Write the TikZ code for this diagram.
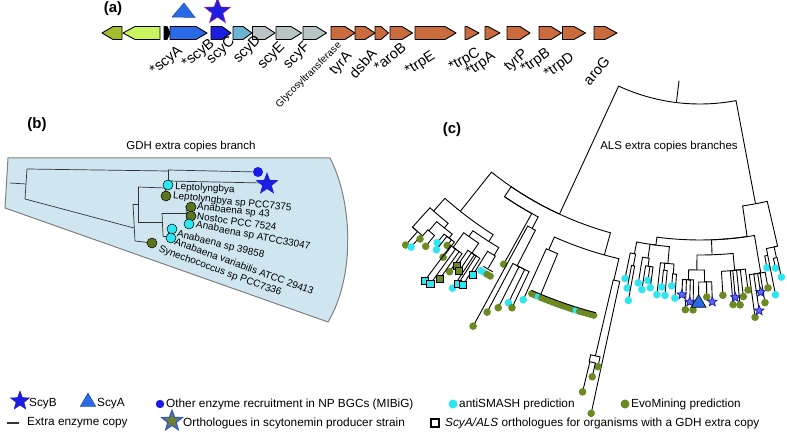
\documentclass[tikz,border=0pt]{standalone}
\usepackage{fontspec}
\setmainfont{Liberation Sans}
\usetikzlibrary{shapes.geometric}
\definecolor{evo}{HTML}{6B8A23}
\definecolor{anti}{HTML}{2EE6F0}
\definecolor{mib}{HTML}{1A1AE6}
\definecolor{scyb}{HTML}{1E1EE0}
\definecolor{scya}{HTML}{2B6AE6}
\definecolor{gA}{HTML}{A2BE2E}
\definecolor{gB}{HTML}{C9F55E}
\definecolor{gC}{HTML}{6CB2D2}
\definecolor{gG}{HTML}{B9C4C7}
\definecolor{gR}{HTML}{C96B3C}
\definecolor{panelb}{HTML}{CFE6F0}
\definecolor{ostar}{HTML}{6E7F2E}
\definecolor{ostaredge}{HTML}{2E58E0}
\definecolor{smfill}{HTML}{5A6CF0}
\definecolor{smedge}{HTML}{1818B0}
\tikzset{
  genebox/.style={draw=black, line width=0.9pt, line join=round},
  glabel/.style={font=\fontsize{14.5}{14.5}\selectfont, anchor=east, inner sep=0pt},
  plabel/.style={font=\bfseries\fontsize{15}{15}\selectfont, inner sep=0pt},
  tl/.style={line width=0.9pt, black},
  btl/.style={line width=0.7pt, black!80},
  bdot/.style={draw=black, line width=0.5pt},
  blabel/.style={font=\fontsize{10}{10}\selectfont, anchor=west, inner sep=0pt},
  leg/.style={font=\fontsize{11.8}{12}\selectfont, anchor=west, inner sep=0pt},
  smstar/.style={star, star points=5, star point ratio=2.3, minimum size=10pt, draw=smedge, fill=smfill, line width=0.7pt, inner sep=0pt},
  bigstar/.style={star, star points=5, star point ratio=2.4, inner sep=0pt},
  tri/.style={regular polygon, regular polygon sides=3, inner sep=0pt}
}
\newcommand\gene[4]{\draw[genebox,fill=#4] (#1,26.5) -- (#2,26.5) -- (#3,33) -- (#2,39.5) -- (#1,39.5) -- cycle;}
\newcommand\tE[4]{\draw[tl] (#1:#2) arc[start angle=#1,end angle=#3,radius=#2] -- (#3:#4);}
\newcommand\tD[5]{\tE{#1}{#2}{#3}{#4}\fill[#5] (#3:#4) circle[radius=3.8];}
\newcommand\tS[5]{\tE{#1}{#2}{#3}{#4}\draw[line width=0.8pt,fill=#5] (#3:#4) +(-3.6,-3.6) rectangle +(3.6,3.6);}
\newcommand\tStar[5]{\tE{#1}{#2}{#3}{#4}\node[smstar] (#5) at (#3:#4) {};}
\begin{document}
\begin{tikzpicture}[x=1pt,y=-1pt]
\useasboundingbox (0,0) rectangle (787,435);

% ---------- panel labels
\node[plabel] (la) at (113,9) {(a)};
\node[plabel] (lb) at (37,125) {(b)};
\node[plabel] (lc) at (452,130) {(c)};

% ---------- panel (a): gene cluster
\gene{122}{113}{102}{gA}
\gene{160}{135}{123}{gB}
\gene{164}{167}{170}{black}
\gene{170}{196}{207}{scya}
\gene{211}{222}{231}{scyb}
\gene{233}{243}{252}{gC}
\gene{252.5}{265}{275}{gG}
\gene{276}{291}{301.5}{gG}
\gene{303}{316}{326.5}{gG}
\gene{331}{345}{355}{gR}
\gene{355}{365}{375}{gR}
\gene{375}{381}{388.5}{gR}
\gene{390}{402}{412.5}{gR}
\gene{415}{445}{456}{gR}
\gene{465}{467}{479}{gR}
\gene{485}{488}{500}{gR}
\gene{507}{520}{530}{gR}
\gene{539}{551}{561.5}{gR}
\gene{562.5}{574}{585.5}{gR}
\gene{594}{605}{617}{gR}
\draw[fill=scya, draw=scya!70!black, line width=0.5pt] (184,3) -- (195,17.5) -- (172,17) -- cycle;
\node[bigstar, minimum size=27pt, fill=scyb, draw=magenta!60!blue, line width=0.5pt] (topstar) at (217.5,11.5) {};

\node[glabel, rotate=40] (n1) at (181,49) {*scyA};
\node[glabel, rotate=40] (n2) at (213,42) {*scyB};
\node[glabel, rotate=43] (n3) at (233,40) {scyC};
\node[glabel, rotate=45] (n4) at (259,38) {scyD};
\node[glabel, rotate=45] (n5) at (283,45) {scyE};
\node[glabel, rotate=45] (n6) at (308,45) {scyF};
\node[glabel, rotate=45, font=\fontsize{10}{10}\selectfont] (n7) at (340,44) {Glycosyltransferase};
\node[glabel, rotate=48] (n8) at (350,54) {tyrA};
\node[glabel, rotate=48] (n9) at (374,51) {dsbA};
\node[glabel, rotate=40] (n10) at (404,45) {*aroB};
\node[glabel, rotate=33] (n11) at (434,55) {*trpE};
\node[glabel, rotate=30] (n12) at (479,52) {*trpC};
\node[glabel, rotate=36] (n13) at (494,55) {*trpA};
\node[glabel, rotate=42] (n14) at (526,52) {tyrP};
\node[glabel, rotate=36] (n15) at (549,52) {*trpB};
\node[glabel, rotate=36] (n16) at (573,56) {*trpD};
\node[glabel, rotate=50] (n17) at (607,58) {aroG};

% ---------- panel (b)
\draw[draw=black!50, line width=1pt, fill=panelb] (8,158) -- (330,158) .. controls (352,200) and (356,275) .. (328,322) -- (5,208) -- cycle;
\node[font=\fontsize{11.5}{12}\selectfont, inner sep=0pt] (btitle) at (191,147) {GDH extra copies branch};
\draw[btl] (10,183) -- (26,184);
\draw[btl] (27,169) -- (25,199);
\draw[btl] (27,169) -- (168,171);
\draw[btl] (168,170) -- (168,181);
\draw[btl] (168,170) -- (258,172);
\draw[btl] (168,181) -- (263,183);
\draw[btl] (25,199) -- (134,228);
\draw[btl] (133,204) -- (135,241);
\draw[btl] (133,204) -- (138,204);
\draw[btl] (138,187) -- (138,222);
\draw[btl] (138,187) -- (165,188);
\draw[btl] (165,185) -- (165,196);
\draw[btl] (165,185) -- (168,185);
\draw[btl] (138,222) -- (162,222);
\draw[btl] (162,213) -- (163,236);
\draw[btl] (162,213) -- (186,213);
\draw[btl] (186,206) -- (187,224);
\draw[btl] (186,207) -- (191,207);
\draw[btl] (186,216) -- (191,216);
\draw[btl] (187,224) -- (189,224);
\draw[btl] (163,236) -- (168,236);
\draw[btl] (168,229) -- (169,238);
\draw[btl] (168,229) -- (172,229);
\draw[btl] (169,238) -- (171,238);
\draw[btl] (135,241) -- (152,243);
\fill[mib] (258,172) circle[radius=5];
\node[bigstar, minimum size=24pt, fill=scyb] (bstar) at (267,184) {};
\filldraw[bdot, fill=anti] (168,185) circle[radius=5];
\filldraw[bdot, fill=evo!85!black] (166,196) circle[radius=5];
\filldraw[bdot, fill=evo!85!black] (191,207) circle[radius=5];
\filldraw[bdot, fill=evo!85!black] (191,216) circle[radius=5];
\filldraw[bdot, fill=anti] (189,224) circle[radius=5];
\filldraw[bdot, fill=anti] (172,229) circle[radius=5];
\filldraw[bdot, fill=anti] (171,238) circle[radius=5];
\filldraw[bdot, fill=evo!85!black] (152,243) circle[radius=5];
\node[blabel, rotate=-3] (b1) at (175,187) {Leptolyngbya};
\node[blabel, rotate=-6] (b2) at (173,196) {Leptolyngbya sp PCC7375};
\node[blabel, rotate=-6] (b3) at (197,207) {Anabaena sp 43};
\node[blabel, rotate=-8] (b4) at (197,216) {Nostoc PCC 7524};
\node[blabel, rotate=-11] (b5) at (196,225) {Anabaena sp ATCC33047};
\node[blabel, rotate=-14] (b6) at (177,234) {Anabaena sp 39858};
\node[blabel, rotate=-20] (b7) at (175,241) {Anabaena variabilis ATCC 29413};
\node[blabel, rotate=-20] (b8) at (159,249) {Synechococcus sp PCC7336};

% ---------- panel (c): radial tree
\node[font=\fontsize{11.5}{12}\selectfont, inner sep=0pt] (ctitle) at (669,147) {ALS extra copies branches};
\begin{scope}[shift={(700,-90)}]
\draw[tl] (97:172) -- (97:194);
\tE{97}{194}{114.8}{335}
\tE{97}{194}{79.3}{299}
% left clade
\tE{114.8}{335}{128.5}{385}
\tE{114.8}{335}{124.3}{347}
\tE{114.8}{335}{105.5}{358}
\tE{128.5}{385}{131.5}{402}
\tE{128.5}{385}{122.5}{393}
\tE{131.5}{402}{132.2}{428}
\tD{132.2}{428}{131.3}{446}{evo}
\tD{132.2}{428}{130.6}{444}{anti}
\tE{131.5}{402}{128.8}{408}
\tE{128.8}{408}{130.2}{420}
\tD{130.2}{420}{130.4}{432}{evo}
\tD{130.2}{420}{129.2}{434}{evo}
\tE{128.8}{408}{127.4}{413}
\tD{127.4}{413}{128.3}{424}{anti}
\tD{127.4}{413}{127.8}{430}{anti}
\tD{127.4}{413}{127.0}{420}{evo}
\tD{127.4}{413}{126.5}{432}{evo}
\tE{122.5}{393}{125.3}{400}
\tE{125.3}{400}{126.2}{418}
\tD{126.2}{418}{124.7}{440}{evo}
\tS{126.2}{418}{126.6}{462}{anti}
\tS{126.2}{418}{125.8}{461}{anti}
\tS{126.2}{418}{125.2}{451}{evo}
\tE{125.3}{400}{123.6}{412}
\tS{123.6}{412}{124.3}{431}{evo}
\tS{123.6}{412}{123.7}{434}{evo}
\tD{123.6}{412}{123.2}{452}{anti}
\tS{123.6}{412}{122.9}{445}{anti}
\tS{123.6}{412}{122.3}{444}{anti}
\tE{122.5}{393}{120.8}{402}
\tS{120.8}{402}{121.9}{430}{anti}
\tE{120.8}{402}{120.6}{416}
\foreach \ang/\col in {121.3/anti,120.8/anti,120.3/evo,119.8/evo}{\fill[\col] (\ang:422) circle[radius=3.6];}
\draw[tl] (121.3:417) arc[start angle=121.3,end angle=119.8,radius=417];
\tD{124.3}{347}{119.0}{405}{evo}
\tE{124.3}{347}{117.8}{360}
\tD{117.8}{360}{118.6}{474}{evo}
\tE{117.8}{360}{117.2}{400}
\tD{117.2}{400}{117.9}{455}{evo}
\tD{117.2}{400}{116.9}{446}{evo}
\tD{117.2}{400}{116.0}{437}{anti}
\tD{117.2}{400}{115.3}{440}{evo}
% middle clade
\tE{105.5}{358}{114.0}{372}
\tD{114.0}{372}{114.4}{428}{anti}
\tE{114.0}{372}{112.5}{416}
\foreach \ang/\col in {113.7/evo,113.2/evo,112.7/anti,112.2/evo,111.7/evo,111.2/evo,110.7/evo,110.2/evo,109.7/evo,109.2/evo,108.7/evo,108.2/evo,107.7/evo,107.2/anti,106.7/evo,106.2/evo,105.7/evo,105.2/evo,104.7/evo}{\fill[\col] (\ang:419) circle[radius=3.6];}
\draw[tl] (113.9:416) arc[start angle=113.9,end angle=104.5,radius=416];
\tE{105.5}{358}{103.1}{380}
\tE{103.1}{380}{103.2}{458}
\tD{103.1}{380}{102.2}{515}{evo}
\tD{103.2}{458}{102.6}{468}{evo}
\tE{103.2}{458}{103.8}{465}
\tD{103.8}{465}{103.0}{479}{evo}
\tD{103.8}{465}{103.7}{496}{evo}
% right clade
\tE{79.3}{299}{77.0}{345}
\tE{79.3}{299}{81.8}{330}
\tE{77.0}{345}{78.9}{352}
\tD{78.9}{352}{79.4}{364}{anti}
\tD{78.9}{352}{78.9}{392}{anti}
\tE{77.0}{345}{77.6}{356}
\tD{77.6}{356}{78.1}{366}{anti}
\tD{77.6}{356}{77.5}{376}{anti}
\tE{81.8}{330}{80.5}{368}
\tD{80.5}{368}{79.8}{384}{evo}
\tD{80.5}{368}{80.6}{398}{evo}
\tD{80.5}{368}{82.3}{411}{evo}
\tE{81.8}{330}{88.0}{345}
\tE{88.0}{345}{84.5}{362}
\tD{84.5}{362}{86.6}{386}{evo}
\tD{84.5}{362}{85.2}{396}{evo}
\tD{84.5}{362}{84.2}{397}{evo}
\tD{84.5}{362}{83.6}{389}{evo}
\tD{84.5}{362}{82.8}{383}{evo}
\tE{88.0}{345}{90.5}{360}
\tE{90.5}{360}{91.8}{370}
\tD{91.8}{370}{92.1}{400}{evo}
\tD{91.8}{370}{91.0}{400}{evo}
\tE{90.5}{360}{89.3}{372}
\tE{89.3}{372}{90.2}{388}
\tD{89.3}{372}{89.0}{387}{evo}
\tE{81.8}{330}{97.5}{338}
\tE{97.5}{338}{100.8}{350}
\tD{100.8}{350}{101.5}{376}{anti}
\tE{100.8}{350}{100.6}{362}
\tD{100.6}{362}{100.9}{385}{anti}
\tD{100.6}{362}{100.4}{397}{anti}
\tE{97.5}{338}{98.5}{352}
\tD{98.5}{352}{99.4}{378}{anti}
\tE{98.5}{352}{98.3}{360}
\tD{98.3}{360}{98.7}{384}{anti}
\tD{98.3}{360}{98.0}{374}{anti}
\tD{98.3}{360}{97.5}{381}{anti}
\tE{97.5}{338}{95.2}{355}
\tD{95.2}{355}{96.4}{387}{anti}
\tE{95.2}{355}{95.7}{362}
\tD{95.7}{362}{95.8}{379}{anti}
\tD{95.7}{362}{95.2}{387}{anti}
\tE{95.2}{355}{94.2}{365}
\tD{94.2}{365}{94.3}{377}{anti}
\tD{94.2}{365}{93.7}{389}{anti}
\tStar{80.5}{368}{81.0}{387}{cs1}
\tStar{80.5}{368}{81.6}{405}{cs2}
\tStar{84.5}{362}{84.8}{389}{cs3}
\tStar{91.8}{370}{92.7}{385}{cs4}
\tStar{91.8}{370}{91.5}{392}{cs5}
\tStar{89.3}{372}{88.2}{392}{cs6}
\node[tri, minimum size=17pt, fill=scya, draw=black, line width=0.6pt] (ctri) at (90.2:393) {};
\end{scope}

% ---------- legend
\node[bigstar, minimum size=20pt, fill=scyb, draw=scyb!80!black, line width=0.4pt] (k1) at (20,401) {};
\node[leg] (t1) at (29,404) {ScyB};
\node[tri, minimum size=18pt, fill=scya, draw=scya!60!black, line width=0.4pt] (k2) at (88,402) {};
\node[leg] (t2) at (97,404) {ScyA};
\fill[mib] (160,404) circle[radius=4.2];
\node[leg] (t3) at (166,404) {Other enzyme recruitment in NP BGCs (MIBiG)};
\fill[anti] (453,404) circle[radius=4.5];
\node[leg] (t4) at (459,404) {antiSMASH prediction};
\fill[evo] (625,404) circle[radius=4.5];
\node[leg] (t5) at (631,404) {EvoMining prediction};
\draw[line width=2pt, black!80] (7,423) -- (19,423);
\node[leg] (t6) at (27,423) {Extra enzyme copy};
\node[bigstar, minimum size=21pt, fill=ostar, draw=ostaredge, line width=1.3pt] (k3) at (172,421) {};
\node[leg] (t7) at (183,423) {Orthologues in scytonemin producer strain};
\draw[line width=1.2pt] (431,419) rectangle (439,427);
\node[leg] (t8) at (445,423) {\textit{ScyA/ALS} orthologues for organisms with a GDH extra copy};
\end{tikzpicture}
\end{document}
